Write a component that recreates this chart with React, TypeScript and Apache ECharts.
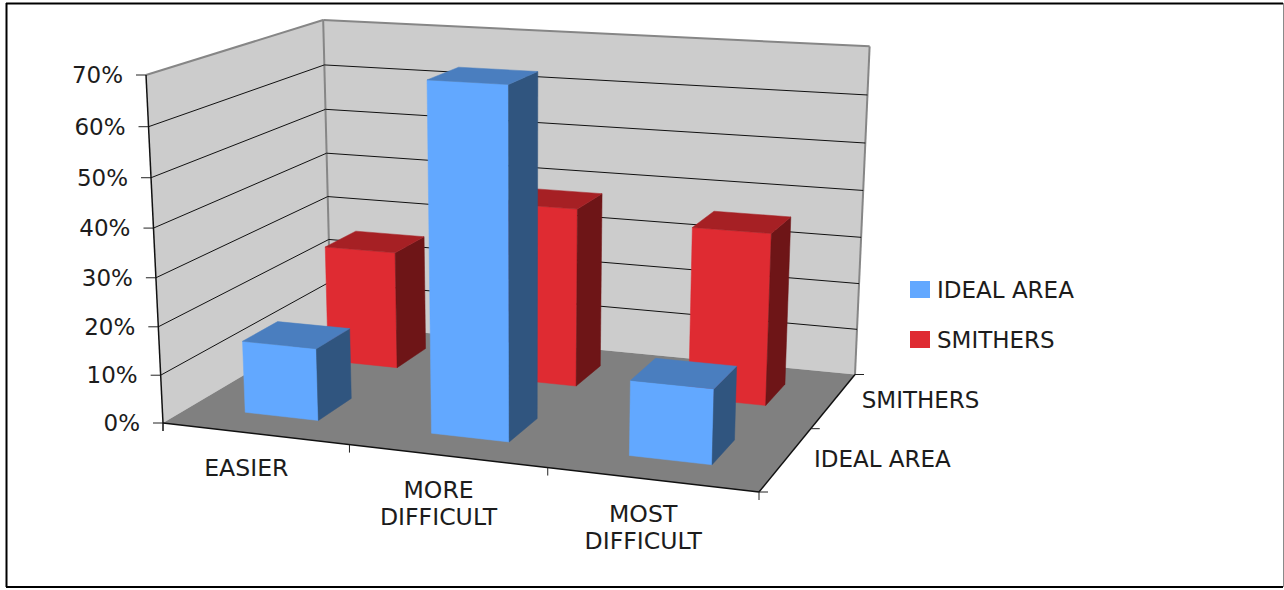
import React, { useEffect, useRef } from "react";
import * as echarts from "echarts";

const categories = ["EASIER", "MORE\nDIFFICULT", "MOST\nDIFFICULT"];
const depthLabels = ["IDEAL AREA", "SMITHERS"];
const tickValues = [0, 10, 20, 30, 40, 50, 60, 70];
const idealAreaValues = [15, 70, 15];
const smithersValues = [25.5, 38, 36];

const FONT = "DejaVu Sans";
const FONT_SIZE = 23;
const CATEGORY_FONT_SIZE = 23.6;
const TEXT = "#1c1c1c";

type Pt = [number, number];

// Perspective camera for the chart box: the floor plane is fixed by its four corners,
// and the vertical direction adds one more column to the same projective matrix.
function makeCamera(p0: Pt, p1: Pt, p2: Pt, p3: Pt, frontLeftTop: Pt, topScale: number) {
  const dx1 = p1[0] - p2[0];
  const dx2 = p3[0] - p2[0];
  const sx = p0[0] - p1[0] + p2[0] - p3[0];
  const dy1 = p1[1] - p2[1];
  const dy2 = p3[1] - p2[1];
  const sy = p0[1] - p1[1] + p2[1] - p3[1];
  const den = dx1 * dy2 - dx2 * dy1;
  const g = (sx * dy2 - dx2 * sy) / den;
  const h = (dx1 * sy - sx * dy1) / den;
  const a = p1[0] - p0[0] + g * p1[0];
  const b = p3[0] - p0[0] + h * p3[0];
  const d = p1[1] - p0[1] + g * p1[1];
  const e = p3[1] - p0[1] + h * p3[1];
  const cx = frontLeftTop[0] * topScale - p0[0];
  const cy = frontLeftTop[1] * topScale - p0[1];
  const k = topScale - 1;
  return (s: number, t: number, v: number): Pt => {
    const w = g * s + h * t + k * v + 1;
    return [(a * s + b * t + cx * v + p0[0]) / w, (d * s + e * t + cy * v + p0[1]) / w];
  };
}

// s runs along the categories, t from front to back, v from the floor to the maximum.
const project = makeCamera([163, 423], [759, 492], [855, 374.5], [331, 323.8], [146, 75], 0.955);

// A hidden cartesian grid supplies the scales; its pixels are read back as fractions.
const GRID_W = 300;
const GRID_H = 100;
const BAR_SHARE = 0.4; // gap width of 150%
const ROWS = depthLabels.length;

function fractions(api: any, cat: number, value: number) {
  const c = api.coord([cat, value]);
  const band = api.size([1, 0])[0];
  return { s: c[0] / GRID_W, ds: band / GRID_W, h: 1 - c[1] / GRID_H };
}

function barRenderer(row: number, front: string, top: string, side: string) {
  return (_p: any, api: any) => {
    const { s, ds, h } = fractions(api, api.value(0), api.value(1));
    const s0 = s - (ds * BAR_SHARE) / 2;
    const s1 = s + (ds * BAR_SHARE) / 2;
    const t0 = (row + 0.5 - BAR_SHARE / 2) / ROWS;
    const t1 = (row + 0.5 + BAR_SHARE / 2) / ROWS;
    const face = (points: Pt[], fill: string) => ({
      type: "polygon",
      shape: { points },
      style: { fill, stroke: fill, lineWidth: 0.5 },
    });
    return {
      type: "group",
      children: [
        face([project(s0, t0, 0), project(s1, t0, 0), project(s1, t0, h), project(s0, t0, h)], front),
        face([project(s1, t0, 0), project(s1, t1, 0), project(s1, t1, h), project(s1, t0, h)], side),
        face([project(s0, t0, h), project(s1, t0, h), project(s1, t1, h), project(s0, t1, h)], top),
      ],
    };
  };
}

function renderPlanes() {
  const poly = (points: Pt[], fill: string) => ({ type: "polygon", shape: { points }, style: { fill } });
  const edge = (a: Pt, b: Pt, stroke: string, lineWidth: number) => ({
    type: "line",
    shape: { x1: a[0], y1: a[1], x2: b[0], y2: b[1] },
    style: { stroke, lineWidth },
  });
  const WALL = "#cccccc";
  const BORDER = "#868686";
  return {
    type: "group",
    children: [
      poly([project(0, 0, 0), project(0, 1, 0), project(0, 1, 1), project(0, 0, 1)], WALL),
      poly([project(0, 1, 0), project(1, 1, 0), project(1, 1, 1), project(0, 1, 1)], WALL),
      poly([project(0, 0, 0), project(1, 0, 0), project(1, 1, 0), project(0, 1, 0)], "#808080"),
      edge(project(0, 0, 1), project(0, 1, 1), BORDER, 2),
      edge(project(0, 1, 1), project(1, 1, 1), BORDER, 2),
      edge(project(0, 1, 0), project(0, 1, 1), BORDER, 2),
      edge(project(1, 1, 0), project(1, 1, 1), BORDER, 2),
    ],
  };
}

function renderValueTick(_p: any, api: any) {
  const value = api.value(1);
  const { h } = fractions(api, 0, value);
  const a = project(0, 0, h);
  const b = project(0, 1, h);
  const c = project(1, 1, h);
  const children: any[] = [
    {
      type: "text",
      x: a[0] - 23,
      y: a[1],
      style: {
        text: `${value}%`,
        fontFamily: FONT,
        fontSize: FONT_SIZE,
        fill: TEXT,
        align: "right",
        verticalAlign: "middle",
      },
    },
    {
      type: "line",
      shape: { x1: a[0] - 10, y1: a[1], x2: a[0], y2: a[1] },
      style: { stroke: "#222", lineWidth: 1 },
    },
  ];
  if (value > 0 && value < tickValues[tickValues.length - 1]) {
    children.push(
      { type: "line", shape: { x1: a[0], y1: a[1], x2: b[0], y2: b[1] }, style: { stroke: "#111", lineWidth: 1 } },
      { type: "line", shape: { x1: b[0], y1: b[1], x2: c[0], y2: c[1] }, style: { stroke: "#111", lineWidth: 1 } },
    );
  }
  return { type: "group", children };
}

function renderCategoryLabel(_p: any, api: any) {
  const i = api.value(0);
  const { s, ds } = fractions(api, i, 0);
  const mid = project(s, 0, 0);
  const next = project(s + ds / 2, 0, 0);
  return {
    type: "group",
    children: [
      {
        type: "text",
        x: mid[0] - 8.5,
        y: mid[1] + 21,
        style: {
          text: categories[i],
          fontFamily: FONT,
          fontSize: CATEGORY_FONT_SIZE,
          lineHeight: 27,
          fill: TEXT,
          align: "center",
          verticalAlign: "top",
        },
      },
      {
        type: "line",
        shape: { x1: next[0], y1: next[1], x2: next[0], y2: next[1] + 8 },
        style: { stroke: "#222", lineWidth: 1 },
      },
    ],
  };
}

function renderDepthLabel(_p: any, api: any) {
  const i = api.value(0);
  const mid = project(1, (i + 0.5) / ROWS, 0);
  const near = project(1, i / ROWS, 0);
  const far = project(1, (i + 1) / ROWS, 0);
  const tick = (p: Pt) => ({
    type: "line",
    shape: { x1: p[0], y1: p[1], x2: p[0] + 9, y2: p[1] },
    style: { stroke: "#222", lineWidth: 1 },
  });
  const children: any[] = [
    {
      type: "text",
      x: mid[0] + 28,
      y: mid[1] - 0.5,
      style: {
        text: depthLabels[i],
        fontFamily: FONT,
        fontSize: FONT_SIZE,
        fill: TEXT,
        align: "left",
        verticalAlign: "middle",
      },
    },
    tick(far),
  ];
  if (i === 0) children.push(tick(near));
  return { type: "group", children };
}

function renderAxisEdges() {
  const line = (a: Pt, b: Pt) => ({
    type: "line",
    shape: { x1: a[0], y1: a[1], x2: b[0], y2: b[1] },
    style: { stroke: "#111", lineWidth: 1.5 },
  });
  const o = project(0, 0, 0);
  return {
    type: "group",
    children: [
      line(project(0, 0, 1), o),
      line(o, project(1, 0, 0)),
      line(project(1, 0, 0), project(1, 1, 0)),
      line(o, [o[0], o[1] + 8]),
    ],
  };
}

export default function App() {
  const ref = useRef<HTMLDivElement>(null);

  useEffect(() => {
    document.body.style.margin = "0";
    const chart = echarts.init(ref.current!, undefined, { renderer: "svg" });
    const onGrid = { coordinateSystem: "cartesian2d", xAxisIndex: 0, yAxisIndex: 0, silent: true };
    chart.setOption({
      animation: false,
      backgroundColor: "#ffffff",
      grid: { left: 0, top: 0, width: GRID_W, height: GRID_H, show: false },
      xAxis: { type: "category", data: categories, show: false },
      yAxis: { type: "value", min: 0, max: 70, interval: 10, show: false },
      legend: {
        data: ["IDEAL AREA", "SMITHERS"],
        orient: "vertical",
        left: 910,
        top: 278,
        padding: 0,
        itemWidth: 20,
        itemHeight: 17,
        itemGap: 27,
        icon: "rect",
        selectedMode: false,
        textStyle: { fontFamily: FONT, fontSize: FONT_SIZE, color: TEXT, padding: [0, 0, 0, 2] },
      },
      graphic: [
        { type: "line", shape: { x1: 6, y1: 3.5, x2: 1283, y2: 3.5 }, style: { stroke: "#000", lineWidth: 2 } },
        { type: "line", shape: { x1: 6.5, y1: 3, x2: 6.5, y2: 587 }, style: { stroke: "#000", lineWidth: 2 } },
        { type: "line", shape: { x1: 6, y1: 587, x2: 1283, y2: 587 }, style: { stroke: "#000", lineWidth: 2 } },
        { type: "line", shape: { x1: 1283.5, y1: 3, x2: 1283.5, y2: 587 }, style: { stroke: "#8a8a8a", lineWidth: 1 } },
      ],
      series: [
        { ...onGrid, type: "custom", name: "planes", z: 1, data: [[0, 0]], renderItem: renderPlanes },
        {
          ...onGrid,
          type: "custom",
          name: "value ticks",
          z: 2,
          data: tickValues.map((v) => [0, v]),
          renderItem: renderValueTick,
        },
        { ...onGrid, type: "custom", name: "axis edges", z: 3, data: [[0, 0]], renderItem: renderAxisEdges },
        {
          ...onGrid,
          type: "custom",
          name: "category labels",
          z: 3,
          data: categories.map((_c, i) => [i, 0]),
          renderItem: renderCategoryLabel,
        },
        {
          ...onGrid,
          type: "custom",
          name: "depth labels",
          z: 3,
          data: depthLabels.map((_c, i) => [i, 0]),
          renderItem: renderDepthLabel,
        },
        {
          ...onGrid,
          type: "custom",
          name: "SMITHERS",
          z: 4,
          itemStyle: { color: "#df2b32" },
          data: smithersValues.map((v, i) => [i, v]),
          renderItem: barRenderer(1, "#df2b32", "#a62024", "#6e1517"),
        },
        {
          ...onGrid,
          type: "custom",
          name: "IDEAL AREA",
          z: 5,
          itemStyle: { color: "#62a8ff" },
          data: idealAreaValues.map((v, i) => [i, v]),
          renderItem: barRenderer(0, "#62a8ff", "#4a7ebf", "#30557f"),
        },
      ],
    });
    return () => chart.dispose();
  }, []);

  return <div ref={ref} style={{ width: 1284, height: 590 }} />;
}
